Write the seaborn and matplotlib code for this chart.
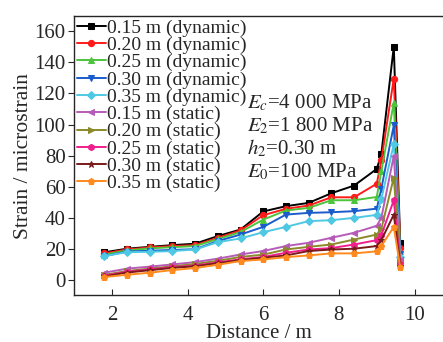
import numpy as np
import pandas as pd
import matplotlib
matplotlib.use("Agg")
import matplotlib.pyplot as plt
import seaborn as sns

distance = [1.8, 2.4, 3.0, 3.6, 4.2, 4.8, 5.4, 6.0, 6.6, 7.2, 7.8, 8.4, 9.0, 9.12, 9.45, 9.62]

labels = ["0.15 m (dynamic)", "0.20 m (dynamic)", "0.25 m (dynamic)", "0.30 m (dynamic)",
          "0.35 m (dynamic)", "0.15 m (static)", "0.20 m (static)", "0.25 m (static)",
          "0.30 m (static)", "0.35 m (static)"]

dyn_015 = [18, 20.3, 21.5, 22.6, 23.5, 28.4, 32.6, 44.2, 47.6, 49.7, 55.9, 60.8, 71.5, 81, 150, 24]
dyn_020 = [17.3, 19.8, 21.1, 22, 22.6, 27.3, 32, 41.8, 45.9, 48, 53.3, 53.3, 62, 77, 129.5, 21]
dyn_025 = [16.5, 19.2, 20.5, 21.3, 22, 26.5, 31, 39, 44.8, 46.5, 51.4, 51.4, 53.5, 70, 114, 19]
dyn_030 = [15.5, 18.5, 19, 19.5, 20, 25.2, 29.4, 34.3, 42.2, 43.3, 43.7, 44.4, 46, 58.8, 99.5, 17]
dyn_035 = [15.6, 18.1, 18.3, 18.8, 19.8, 24.5, 26.9, 30.9, 34.3, 38, 38.6, 40.1, 42, 52, 87.5, 15]
sta_015 = [4.9, 7.5, 8.8, 10.2, 11.7, 13.9, 16.6, 18.8, 22, 24.1, 27.3, 30.5, 35, 40, 80, 13]
sta_020 = [3.5, 6, 7.5, 9, 10.5, 12.5, 15, 16.5, 19.8, 21.5, 23, 26.2, 29.4, 33, 66, 12]
sta_025 = [3, 5.5, 7, 8.5, 9.5, 11.5, 13.5, 15, 17.7, 19.8, 20.7, 23, 25.8, 29, 51.4, 10.5]
sta_030 = [2.5, 5, 6.5, 8, 9, 11, 13, 14.5, 16, 18.8, 19.8, 20.3, 22, 25.8, 42.2, 9.5]
sta_035 = [2.1, 3.6, 4.9, 6.6, 7.9, 10, 12.4, 13.4, 14.9, 16, 17.3, 17.3, 18.6, 22, 34.3, 8.5]

series = [dyn_015, dyn_020, dyn_025, dyn_030, dyn_035,
          sta_015, sta_020, sta_025, sta_030, sta_035]

colors = ["#000000", "#ff1a1a", "#4cc43c", "#1a5ccc", "#4fc8e4",
          "#b65cb8", "#8a8a2a", "#f01e8c", "#7a1a1a", "#ff8a1e"]
markers = ["s", "o", "^", "v", "D", "<", ">", "h", "*", "p"]

rows = []
for lab, vals in zip(labels, series):
    for xv, yv in zip(distance, vals):
        rows.append({"Distance": xv, "Strain": yv, "Series": lab})
df = pd.DataFrame(rows)

sns.set_style("ticks")
plt.rcParams["font.family"] = ["Liberation Serif", "DejaVu Serif"]
plt.rcParams["mathtext.fontset"] = "stix"

fig = plt.figure(figsize=(4.43, 3.42), dpi=100)
ax = fig.add_axes([0.167, 0.137, 0.833, 0.816])

sns.lineplot(data=df, x="Distance", y="Strain", hue="Series", style="Series",
             hue_order=labels, style_order=labels,
             palette=dict(zip(labels, colors)), markers=dict(zip(labels, markers)),
             dashes=False, estimator=None, sort=False, ax=ax,
             linewidth=1.4, markersize=4.5)

for line, c in zip(ax.get_lines(), colors):
    line.set_markeredgecolor(c)
    line.set_markerfacecolor(c)

handles, labs = ax.get_legend_handles_labels()
for h, c in zip(handles, colors):
    h.set_markeredgecolor(c)
    h.set_markerfacecolor(c)
ax.legend(handles, labs, loc="upper left", frameon=False, fontsize=14,
          labelspacing=-0.02, handlelength=1.5, handletextpad=0.05,
          borderaxespad=0.1, borderpad=0.05, bbox_to_anchor=(0.0, 1.0))

ax.set_xlim(1.0, 10.75)
ax.set_ylim(-9.5, 169.6)
ax.set_xticks([2, 4, 6, 8, 10])
ax.set_yticks([0, 20, 40, 60, 80, 100, 120, 140, 160])
ax.tick_params(axis="y", direction="out", length=4, labelsize=15, pad=2)
ax.tick_params(axis="x", direction="in", length=4, labelsize=15, pad=8)
ax.spines["right"].set_visible(False)
for s in ["left", "bottom", "top"]:
    ax.spines[s].set_linewidth(1.0)
ax.set_xlabel("Distance / m", fontsize=15, labelpad=-1)
ax.set_ylabel("Strain / microstrain", fontsize=15.5, labelpad=1)

txt_kw = dict(transform=ax.transAxes, fontsize=15, ha="left", va="center")
ax.text(0.47, 0.69, r"$E_c$=4 000 MPa", **txt_kw)
ax.text(0.47, 0.607, r"$E_\mathrm{2}$=1 800 MPa", **txt_kw)
ax.text(0.47, 0.525, r"$h_\mathrm{2}$=0.30 m", **txt_kw)
ax.text(0.47, 0.44, r"$E_\mathrm{0}$=100 MPa", **txt_kw)

fig.savefig("out.png", dpi=100)
